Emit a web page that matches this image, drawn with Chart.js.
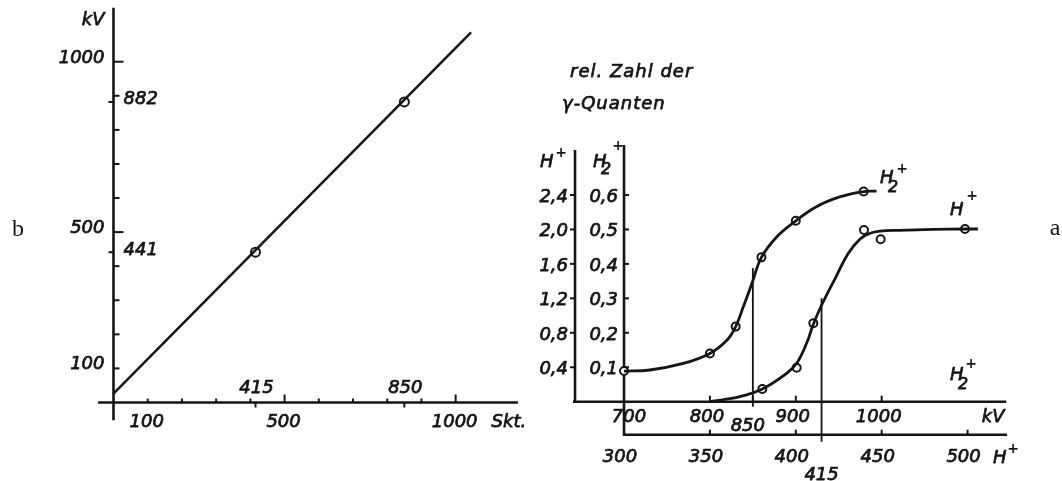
<!DOCTYPE html>
<html>
<head>
<meta charset="utf-8">
<script src="https://cdn.jsdelivr.net/npm/chart.js@4.4.1/dist/chart.umd.min.js"></script>
<style>
html,body{margin:0;padding:0;background:#fff;overflow:hidden;}
#wrap{position:relative;width:1062px;height:481px;background:#fff;}
#wrap canvas{position:absolute;left:0;top:0;}
</style>
</head>
<body>
<div id="wrap">
<canvas id="chartB" width="1062" height="481"></canvas>
<canvas id="chartA" width="1062" height="481"></canvas>
</div>
<script>
// ---------- Panel b : calibration kV vs Skt. ----------
const calibSkt = [415, 850];
const calibKV = [441, 882];
const calibLineSkt = [0, 1045];
const calibLineKV = [26, 1086];
const bXTicks = [100, 200, 300, 400, 500, 600, 700, 800, 900, 1000];
const bXLabels = [100, 500, 1000];
const bYTicks = [100, 200, 300, 400, 500, 600, 700, 800, 900, 1000];
const bYLabels = [100, 500, 1000];

// ---------- Panel a : rel. Zahl der gamma-Quanten ----------
const h2MarkKV = [700, 800, 830, 860, 900, 979];
const h2MarkVal = [0.089, 0.140, 0.218, 0.419, 0.525, 0.610];
const h2CurveKV = [700, 730, 769, 800, 820, 830, 839, 849, 860, 878, 900, 924, 952, 979, 994];
const h2CurveVal = [0.089, 0.092, 0.111, 0.140, 0.179, 0.218, 0.276, 0.344, 0.419, 0.479, 0.525, 0.566, 0.595, 0.610, 0.611];
const hMarkH = [380.5, 400.5, 410.2, 439.7, 449.4, 498.5];
const hMarkVal = [0.147, 0.395, 0.91, 1.994, 1.886, 2.005];
const hCurveH = [350, 367.5, 380.5, 394.7, 400.5, 406.3, 410.2, 415, 423.4, 430.5, 437.4, 443.2, 449, 460, 480, 498.5, 506];
const hCurveVal = [0, 0.058, 0.147, 0.33, 0.446, 0.678, 0.90, 1.12, 1.45, 1.72, 1.89, 1.955, 1.98, 1.99, 2.0, 2.005, 2.005];
const kvTicks = [800, 850, 900, 1000];
const kvLabels = [700, 800, 850, 900, 1000];
const hTicks = [350, 400, 450, 500];
const hLabels = [300, 350, 400, 415, 450, 500];
const h2YTicks = [0.1, 0.2, 0.3, 0.4, 0.5, 0.6];
const hYTicks = [0.4, 0.8, 1.2, 1.6, 2.0, 2.4];
const markKV = 850;
const markKVSpan = [0.388, -0.015];
const markH = 415;
const markHSpan = [1.2, -0.464];

const INK = '#151515';
const NUM = 'italic 18px "DejaVu Sans", sans-serif';
const SERIF = '24px "Liberation Serif", "DejaVu Serif", serif';

function pts(xs, ys) { return xs.map((x, i) => ({ x: x, y: ys[i] })); }
function seg(c, x1, y1, x2, y2, w) { c.lineWidth = w; c.beginPath(); c.moveTo(x1, y1); c.lineTo(x2, y2); c.stroke(); }
function txt(c, s, x, y, align, heavy) {
  c.textAlign = align || 'center'; c.textBaseline = 'alphabetic';
  c.fillText(s, x, y);
  if (heavy !== false) { c.lineWidth = 0.75; c.lineJoin = 'round'; c.strokeText(s, x, y); }
}
function comma(v) { return v.toFixed(1).replace('.', ','); }
function drawH(c, x, y, subDy, px, py) {
  c.font = NUM; txt(c, 'H', x, y, 'left');
  if (subDy) { c.font = 'italic 16px "DejaVu Sans", sans-serif'; txt(c, '2', x + 8, y + subDy, 'left'); }
  c.font = 'bold 14px "DejaVu Sans", sans-serif';
  c.textBaseline = 'middle'; c.textAlign = 'center'; c.fillText('+', px, py);
  c.textBaseline = 'alphabetic';
}

const common = {
  responsive: false, animation: false, devicePixelRatio: 1, events: [],
  plugins: { legend: { display: false }, tooltip: { enabled: false } }
};

// ---------- plugin for panel b ----------
const panelB = {
  id: 'panelB',
  beforeDatasetsDraw(chart) {
    const c = chart.ctx, xs = chart.scales.x, ys = chart.scales.y;
    const x0 = xs.getPixelForValue(0), y0 = ys.getPixelForValue(0);
    c.save();
    c.strokeStyle = INK; c.fillStyle = INK; c.lineCap = 'butt';
    seg(c, x0, ys.getPixelForValue(1158), x0, ys.getPixelForValue(-52), 2.6);
    seg(c, xs.getPixelForValue(-45), y0, xs.getPixelForValue(1182), y0, 2.6);
    bYTicks.forEach(v => { const p = ys.getPixelForValue(v); seg(c, x0, p, x0 + (v % 500 === 0 ? 10 : 6), p, 2); });
    bXTicks.forEach(v => { const p = xs.getPixelForValue(v); seg(c, p, y0, p, y0 - (v % 500 === 0 ? 8 : 4), 2); });
    calibKV.forEach(v => { const p = ys.getPixelForValue(v); seg(c, x0 - 5, p, x0, p, 2); });
    calibSkt.forEach(v => { const p = xs.getPixelForValue(v); seg(c, p, y0, p, y0 + 5, 2); });
    c.font = NUM;
    bYLabels.forEach(v => txt(c, String(v), x0 - 9, ys.getPixelForValue(v) + 1, 'right'));
    calibKV.forEach(v => txt(c, String(v), x0 + 10, ys.getPixelForValue(v) + 2.5, 'left'));
    bXLabels.forEach(v => txt(c, String(v), xs.getPixelForValue(v) - 1, y0 + 24, 'center'));
    calibSkt.forEach(v => txt(c, String(v), xs.getPixelForValue(v) + 1, y0 - 10, 'center'));
    txt(c, 'kV', x0 - 9, 25, 'right');
    txt(c, 'Skt.', xs.getPixelForValue(1105), y0 + 24, 'left');
    c.font = SERIF;
    txt(c, 'b', 18, 236, 'center', false);
    c.restore();
  }
};

// ---------- plugin for panel a ----------
const panelA = {
  id: 'panelA',
  beforeDatasetsDraw(chart) {
    const c = chart.ctx, s = chart.scales;
    const xk = s.xk, xh = s.xh, y2 = s.y2, yh = s.yh;
    const y0 = y2.getPixelForValue(0);
    const yLow = y0 + 33;
    const xA = xk.getPixelForValue(700);
    const xH = xA - 49;
    c.save();
    c.strokeStyle = INK; c.fillStyle = INK; c.lineCap = 'butt';
    seg(c, xH, 150, xH, y0 + 1, 2.6);
    seg(c, xA, 145, xA, yLow + 1, 2.6);
    seg(c, xH - 2, y0, xk.getPixelForValue(1145), y0, 2.6);
    seg(c, xA - 1, yLow, xh.getPixelForValue(523), yLow, 2.6);
    hYTicks.forEach(v => { const p = yh.getPixelForValue(v); seg(c, xH - 5, p, xH, p, 2); });
    h2YTicks.forEach(v => { const p = y2.getPixelForValue(v); seg(c, xA, p, xA + 5, p, 2); });
    kvTicks.forEach(v => { const p = xk.getPixelForValue(v); seg(c, p, y0, p, y0 - 6, 2); });
    hTicks.forEach(v => { const p = xh.getPixelForValue(v); seg(c, p, yLow, p, yLow - 5, 2); });
    c.font = NUM;
    hYTicks.forEach(v => txt(c, comma(v), xH - 7, yh.getPixelForValue(v) + 7, 'right'));
    h2YTicks.forEach(v => txt(c, comma(v), xA - 6, y2.getPixelForValue(v) + 7, 'right'));
    kvLabels.forEach(v => {
      const p = xk.getPixelForValue(v);
      if (v === 850) txt(c, String(v), p - 5, y0 + 29.5, 'center');
      else if (v === 700) txt(c, String(v), p + 5, y0 + 20.5, 'center');
      else txt(c, String(v), p - 3, y0 + 20.5, 'center');
    });
    txt(c, 'kV', xk.getPixelForValue(1143), y0 + 20.5, 'right');
    hLabels.forEach(v => {
      const p = xh.getPixelForValue(v);
      if (v === 415) txt(c, String(v), p, yLow + 45, 'center');
      else txt(c, String(v), p - 4, yLow + 27, 'center');
    });
    c.font = NUM;
    c.letterSpacing = '1px';
    txt(c, 'rel. Zahl der', 570, 77, 'left');
    txt(c, '\u03B3-Quanten', 562, 109, 'left');
    c.letterSpacing = '0px';
    drawH(c, 540, 167, 0, 561, 153);
    drawH(c, 593, 167, 7, 618, 146);
    drawH(c, 880, 183, 9, 902, 169);
    drawH(c, 950, 215, 0, 972, 196);
    drawH(c, 950, 380, 9, 971, 364);
    drawH(c, 993, 463, 0, 1013, 449);
    c.font = SERIF;
    txt(c, 'a', 1055, 235, 'center', false);
    c.restore();
  }
};

new Chart(document.getElementById('chartB'), {
  type: 'scatter',
  data: {
    datasets: [
      { data: pts(calibLineSkt, calibLineKV), showLine: true, borderColor: INK, borderWidth: 2.5, pointRadius: 0, clip: false },
      { data: pts(calibSkt, calibKV), showLine: false, pointRadius: 4.5, borderWidth: 2, borderColor: INK, backgroundColor: '#fff', clip: false }
    ]
  },
  options: Object.assign({}, common, {
    layout: { padding: { left: 113.5, right: 537.9, top: 10.6, bottom: 78.5 } },
    scales: {
      x: { type: 'linear', min: 0, max: 1200, display: false },
      y: { type: 'linear', min: 0, max: 1150, display: false }
    }
  }),
  plugins: [panelB]
});

new Chart(document.getElementById('chartA'), {
  type: 'scatter',
  data: {
    datasets: [
      { data: pts(h2CurveKV, h2CurveVal), xAxisID: 'xk', yAxisID: 'y2', showLine: true, tension: 0.4, borderColor: INK, borderWidth: 2.8, pointRadius: 0, clip: false },
      { data: pts(hCurveH, hCurveVal), xAxisID: 'xh', yAxisID: 'yh', showLine: true, tension: 0.4, borderColor: INK, borderWidth: 2.8, pointRadius: 0, clip: false },
      { data: pts([markKV, markKV], markKVSpan), xAxisID: 'xk', yAxisID: 'y2', showLine: true, borderColor: INK, borderWidth: 1.8, pointRadius: 0, clip: false },
      { data: pts([markH, markH], markHSpan), xAxisID: 'xh', yAxisID: 'yh', showLine: true, borderColor: INK, borderWidth: 1.8, pointRadius: 0, clip: false },
      { data: pts(h2MarkKV, h2MarkVal), xAxisID: 'xk', yAxisID: 'y2', showLine: false, pointRadius: 4, borderWidth: 2, borderColor: INK, backgroundColor: '#fff', clip: false },
      { data: pts(hMarkH, hMarkVal), xAxisID: 'xh', yAxisID: 'yh', showLine: false, pointRadius: 4, borderWidth: 2, borderColor: INK, backgroundColor: '#fff', clip: false }
    ]
  },
  options: Object.assign({}, common, {
    layout: { padding: { left: 555.3, right: 42.9, top: 143.3, bottom: 79.3 } },
    scales: {
      xk: { axis: 'x', type: 'linear', min: 620, max: 1160, display: false },
      xh: { axis: 'x', type: 'linear', min: 260, max: 530, display: false },
      y2: { axis: 'y', type: 'linear', min: 0, max: 0.75, display: false },
      yh: { axis: 'y', type: 'linear', min: 0, max: 3.0, display: false }
    }
  }),
  plugins: [panelA]
});
</script>
</body>
</html>
